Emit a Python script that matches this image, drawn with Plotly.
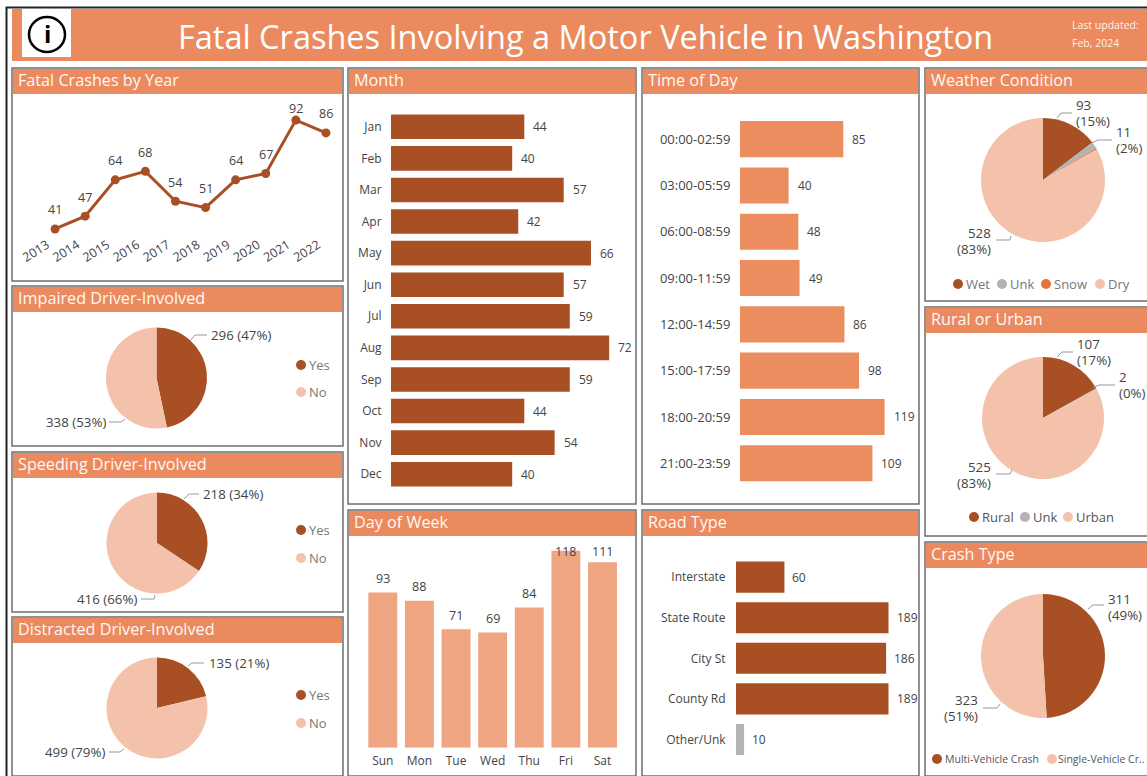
import plotly.graph_objects as go

# ---------- data ----------
years = ["2013","2014","2015","2016","2017","2018","2019","2020","2021","2022"]
year_vals = [41,47,64,68,54,51,64,67,92,86]
months = ["Jan","Feb","Mar","Apr","May","Jun","Jul","Aug","Sep","Oct","Nov","Dec"]
month_vals = [44,40,57,42,66,57,59,72,59,44,54,40]
tod = ["00:00-02:59","03:00-05:59","06:00-08:59","09:00-11:59","12:00-14:59","15:00-17:59","18:00-20:59","21:00-23:59"]
tod_vals = [85,40,48,49,86,98,119,109]
days = ["Sun","Mon","Tue","Wed","Thu","Fri","Sat"]
day_vals = [93,88,71,69,84,118,111]
roads = ["Interstate","State Route","City St","County Rd","Other/Unk"]
road_vals = [60,189,186,189,10]
yes_no = ["Yes","No"]
impaired_vals = [296,338]
speeding_vals = [218,416]
distracted_vals = [135,499]
weather = ["Wet","Unk","Snow","Dry"]
weather_vals = [93,11,2,528]
rural = ["Rural","Unk","Urban"]
rural_vals = [107,2,525]
crash = ["Multi-Vehicle Crash","Single-Vehicle Crash"]
crash_vals = [311,323]

# ---------- style ----------
W, H = 1147, 776
FONT = "Open Sans"
HDR = "#EB8A5E"; DARK = "#A94F24"; MID = "#EC8D60"; SOFT = "#F0A582"; PALE = "#F4C2AB"
GRAY = "#B3B3B3"; SNOW = "#E8703A"; TXT = "#444444"; LEG = "#777777"; LEG2 = "#555555"; BORDER = "#6E6E6E"
px = lambda x: x / W
py = lambda y: 1 - y / H
shapes, annos = [], []

def rect(x0, y0, x1, y1, fill=None, line=None, lw=0, layer="below"):
    shapes.append(dict(type="rect", xref="paper", yref="paper", x0=px(x0), x1=px(x1), y0=py(y0), y1=py(y1),
                       fillcolor=fill or "rgba(0,0,0,0)", line=dict(color=line or "rgba(0,0,0,0)", width=lw), layer=layer))

def text(x, y, s, size=12, color=TXT, xa="left", align=None, **kw):
    annos.append(dict(xref="paper", yref="paper", x=px(x), y=py(y), text=s, showarrow=False, xanchor=xa, yanchor="middle",
                      align=align or xa, font=dict(family=FONT, size=size, color=color), borderpad=0, borderwidth=0, **kw))

def panel(x0, y0, x1, y1, title):
    rect(x0, y0, x1, y1, "white", BORDER, 1.5)
    rect(x0 + 1, y0 + 1, x1 - 1, y0 + 26, HDR)
    text(x0 + 6, y0 + 12, title, size=16.2, color="#FFF8F4")

def leader(pts):
    path = "M " + " L ".join(f"{px(a):.5f},{py(b):.5f}" for a, b in pts)
    shapes.append(dict(type="path", xref="paper", yref="paper", path=path, line=dict(color="#999999", width=1), layer="above"))

def dot(x, y, color, r=5):
    shapes.append(dict(type="circle", xref="paper", yref="paper", x0=px(x - r), x1=px(x + r), y0=py(y + r), y1=py(y - r),
                       fillcolor=color, line=dict(width=0), layer="above"))

def pct(vals, i):
    return round(100 * vals[i] / sum(vals))

# ---------- frame + header ----------
shapes.append(dict(type="path", xref="paper", yref="paper",
                   path=f"M {px(6.5)},{py(776)} L {px(6.5)},{py(7.5)} L {px(1147)},{py(7.5)}",
                   line=dict(color="#222222", width=2), layer="below"))
rect(12, 9, 1147, 61, HDR)
rect(22, 9, 71, 57, "white")
shapes.append(dict(type="circle", xref="paper", yref="paper", x0=px(29), x1=px(65), y0=py(52), y1=py(17),
                   fillcolor="white", line=dict(color="black", width=2.5), layer="above"))
text(47, 34, "<b>i</b>", size=24, color="black", xa="center")
text(585, 36.5, "Fatal Crashes Involving a Motor Vehicle in Washington", size=32.5, color="white", xa="center")
text(1072, 25, "Last updated:", size=10.5, color="#FFF3EC")
text(1072, 43, "Feb, 2024", size=10.5, color="#FFF3EC")

panel(12, 68, 343, 281, "Fatal Crashes by Year")
panel(12, 286, 343, 446, "Impaired Driver-Involved")
panel(12, 452, 343, 612, "Speeding Driver-Involved")
panel(12, 617, 343, 776, "Distracted Driver-Involved")
panel(348, 68, 636, 504, "Month")
panel(348, 510, 636, 776, "Day of Week")
panel(642, 68, 919, 504, "Time of Day")
panel(642, 510, 919, 776, "Road Type")
panel(925, 68, 1148, 301, "Weather Condition")
panel(925, 307, 1148, 536, "Rural or Urban")
panel(925, 542, 1148, 776, "Crash Type")

fig = go.Figure()
layout_axes = {}
tickfont = dict(family=FONT, size=12, color=TXT)

def axes(n, xdom, ydom, xrange, yrange, xkw=None, ykw=None):
    sx = "" if n == 1 else str(n)
    base = dict(showgrid=False, zeroline=False, showline=False, fixedrange=True)
    layout_axes["xaxis" + sx] = dict(base, domain=[px(xdom[0]), px(xdom[1])], range=xrange, anchor="y" + sx, **(xkw or {}))
    layout_axes["yaxis" + sx] = dict(base, domain=[py(ydom[1]), py(ydom[0])], range=yrange, anchor="x" + sx, **(ykw or {}))
    return "x" + sx, "y" + sx

hidden = dict(showticklabels=False, ticks="")
cat_tick = dict(type="category", showticklabels=True, tickfont=tickfont, ticks="outside", ticklen=5, tickcolor="rgba(0,0,0,0)")

# ---------- line ----------
xa, ya = axes(1, (40, 341), (103, 231), [-0.5, 9.5], [40.05, 100],
              dict(cat_tick, tickangle=-32, ticklen=1, ticklabelshift=-8, tickfont=dict(tickfont, size=12.5)), hidden)
fig.add_trace(go.Scatter(x=years, y=year_vals, mode="lines+markers", xaxis=xa, yaxis=ya, cliponaxis=False,
                         line=dict(color=DARK, width=3), marker=dict(color=DARK, size=9), hoverinfo="skip"))
for i, v in enumerate(year_vals):
    annos.append(dict(xref=xa, yref=ya, x=i, y=v, text=str(v), showarrow=False, yanchor="middle", yshift=12 if v == 92 else 19,
                      font=dict(family=FONT, size=12.5, color=TXT)))

# ---------- horizontal bars ----------
def hbar(n, cats, vals, xdom, ydom, xmax, color, gap, colors=None, ticklen=5, shift=7, tsize=12):
    xa, ya = axes(n, xdom, ydom, [0, xmax], [len(cats) - 0.5, -0.5], hidden,
                  dict(cat_tick, ticklen=ticklen, tickfont=dict(tickfont, size=tsize)))
    fig.add_trace(go.Bar(x=vals, y=cats, orientation="h", xaxis=xa, yaxis=ya, width=1 - gap,
                         marker=dict(color=colors or color, line=dict(width=0)), hoverinfo="skip"))
    for c, v in zip(cats, vals):
        annos.append(dict(xref=xa, yref=ya, x=v, y=c, text=str(v), showarrow=False, xanchor="left", yanchor="middle", xshift=shift,
                          font=dict(family=FONT, size=12, color=TXT)))

hbar(2, months, month_vals, (391, 633.4), (111, 490), 80, DARK, 0.22, ticklen=6)
hbar(3, tod, tod_vals, (740, 910), (116, 486.4), 170 / 1.215, MID, 0.22, ticklen=6, tsize=13)
hbar(4, roads, road_vals, (736, 897), (556.8, 759.8), 161 / 0.807, DARK, 0.235,
     colors=[DARK, DARK, DARK, DARK, GRAY], ticklen=7, shift=6)

# ---------- columns ----------
xa, ya = axes(5, (364.5, 620.8), (539, 747.7), [-0.5, 6.5], [0, 125], dict(cat_tick, ticklen=2), hidden)
fig.add_trace(go.Bar(x=days, y=day_vals, xaxis=xa, yaxis=ya, width=0.79,
                     marker=dict(color=SOFT, line=dict(width=0)), hoverinfo="skip"))
for c, v in zip(days, day_vals):
    annos.append(dict(xref=xa, yref=ya, x=c, y=v, text=str(v), showarrow=False, yanchor="middle",
                      yshift={118: -1, 111: 11}.get(v, 14), font=dict(family=FONT, size=12.5, color=TXT)))

# ---------- pies ----------
def pie(cats, vals, colors, cx, cy, r):
    fig.add_trace(go.Pie(labels=cats, values=vals, sort=False, direction="clockwise", rotation=0, textinfo="none",
                         marker=dict(colors=colors, line=dict(width=0)), showlegend=False, hoverinfo="skip",
                         domain=dict(x=[px(cx - r), px(cx + r)], y=[py(cy + r), py(cy - r)])))

two = [DARK, PALE]
pie(yes_no, impaired_vals, two, 156.5, 378, 50.5)
pie(yes_no, speeding_vals, two, 157, 543, 50.5)
pie(yes_no, distracted_vals, two, 157, 708, 50.5)
pie(weather, weather_vals, [DARK, GRAY, SNOW, PALE], 1043, 180, 62)
pie(rural, rural_vals, [DARK, GRAY, PALE], 1043, 418, 61)
pie(crash, crash_vals, two, 1043, 656, 62)

LBL = 13.3
def inline(x, y, vals, i, xa="left"):
    text(x, y, f"{vals[i]} ({pct(vals, i)}%)", size=LBL, xa=xa)
def stacked(x, y, vals, i, xa="left"):
    text(x, y - 8, str(vals[i]), size=LBL, xa=xa)
    text(x, y + 8, f"({pct(vals, i)}%)", size=LBL, xa=xa)

inline(211, 335, impaired_vals, 0); leader([(190, 341), (195, 335), (207, 335)])
inline(106, 422, impaired_vals, 1, "right"); leader([(109, 422), (121, 422), (125, 419)])
inline(203, 494, speeding_vals, 0); leader([(184, 499), (189, 494), (199, 494)])
inline(137, 599, speeding_vals, 1, "right"); leader([(141, 599), (154, 599), (155, 595)])
inline(209, 663, distracted_vals, 0); leader([(188, 666), (192, 663), (204, 663)])
inline(105, 752, distracted_vals, 1, "right"); leader([(109, 752), (120, 752), (124, 749)])

stacked(1076, 113, weather_vals, 0); leader([(1057, 118), (1061, 113), (1072, 113)])
stacked(1116, 140, weather_vals, 1); leader([(1092, 143), (1098, 140), (1112, 140)])
stacked(991, 241, weather_vals, 3, "right"); leader([(996, 240), (1010, 240), (1011, 236)])
stacked(1077, 352, rural_vals, 0); leader([(1057, 357), (1062, 352), (1073, 352)])
stacked(1119, 385, rural_vals, 1); leader([(1093, 388), (1099, 385), (1115, 385)])
stacked(991, 475, rural_vals, 2, "right"); leader([(996, 474), (1010, 474), (1012, 470)])
stacked(1108, 607, crash_vals, 0); leader([(1088, 609), (1093, 605), (1104, 605)])
stacked(978, 708, crash_vals, 1, "right"); leader([(983, 708), (997, 708), (1000, 704)])

# ---------- legends ----------
def legend_item(x, y, s, color, size=13, tx=8, tc=LEG):
    dot(x, y, color)
    text(x + tx, y, s, size=size, color=tc)

for (y1, y2) in [(365, 392), (530, 558), (695, 723)]:
    legend_item(301, y1, yes_no[0], DARK)
    legend_item(301, y2, yes_no[1], PALE)
for x, s, c in zip([958, 1002, 1046, 1100], weather, [DARK, GRAY, SNOW, PALE]):
    legend_item(x, 284, s, c)
for x, s, c in zip([974, 1025, 1068], rural, [DARK, GRAY, PALE]):
    legend_item(x, 517, s, c, tc=LEG2)
legend_item(937, 759, crash[0], DARK, size=10.5, tc=LEG2)
legend_item(1052, 759, "Single-Vehicle Cr..", PALE, size=10.5, tx=6, tc=LEG2)

fig.update_layout(width=W, height=H, margin=dict(l=0, r=0, t=0, b=0, pad=0, autoexpand=False), autosize=False, paper_bgcolor="white",
                  plot_bgcolor="rgba(0,0,0,0)", showlegend=False, shapes=shapes, annotations=annos, barmode="overlay",
                  font=dict(family=FONT), **layout_axes)
fig.write_html("out.html", config=dict(displayModeBar=False, responsive=False),
               post_script="document.body.style.margin='0';document.body.style.overflow='hidden';")
